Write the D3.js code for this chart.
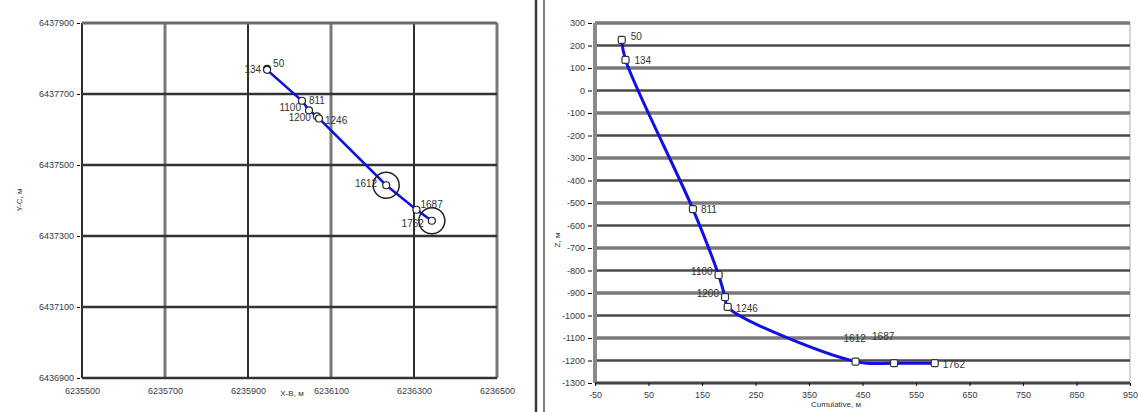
<!DOCTYPE html>
<head>
  <meta charset="utf-8">
  <script src="https://d3js.org/d3.v7.min.js"></script>
  <style>
  body,html {font-family:"Liberation Sans", Arial, sans-serif; margin:0; background:#fff;}
  .tick text {font-size:9px; fill:#3a3a4a;}
  .lbl {font-size:10px; fill:#333;}
  .ttl {font-size:8px; fill:#333;}
  </style>
</head>
<body>
<script>
  const width = 1138, height = 412;

  // point names
  const names = ["50", "134", "811", "1100", "1200", "1246", "1612", "1687", "1762"];

  // left chart: plan coordinates
  const planX = [6235946, 6235946, 6236030, 6236047, 6236066, 6236071, 6236233, 6236306, 6236343];
  const planY = [6437771, 6437768, 6437681, 6437654, 6437637, 6437631, 6437443, 6437374, 6437343];
  const planXTicks = [6235500, 6235700, 6235900, 6236100, 6236300, 6236500];
  const planYTicks = [6436900, 6437100, 6437300, 6437500, 6437700, 6437900];
  const ringed = ["1612", "1762"];

  // right chart: profile
  const profX = [0, 7, 133, 181, 193, 198, 437, 509, 585];
  const profY = [225, 136, -527, -820, -918, -962, -1205, -1212, -1212];
  const profXTicks = [-50, 50, 150, 250, 350, 450, 550, 650, 750, 850, 950];
  const profYTicks = d3.range(-1300, 301, 100);

  const plain = d => String(d);

  const svg = d3.select("body").append("svg")
    .attr("width", width).attr("height", height);

  // ---------- left chart
  const x1 = d3.scaleLinear().domain([6235500, 6236500]).range([82, 497]);
  const y1 = d3.scaleLinear().domain([6436900, 6437900]).range([378, 23]);

  const g1 = svg.append("g");
  g1.selectAll(".vg").data(planXTicks).enter().append("line")
    .attr("x1", d => x1(d)).attr("x2", d => x1(d))
    .attr("y1", y1(6437900)).attr("y2", y1(6436900))
    .attr("stroke", (d, i) => i % 2 ? "#7a7a7a" : "#2e2e2e")
    .attr("stroke-width", (d, i) => i % 2 ? 3 : 2);
  g1.selectAll(".hg").data(planYTicks).enter().append("line")
    .attr("y1", d => y1(d)).attr("y2", d => y1(d))
    .attr("x1", x1(6235500)).attr("x2", x1(6236500))
    .attr("stroke", (d, i) => i == 5 ? "#6a6a6a" : "#333")
    .attr("stroke-width", (d, i) => i == 5 ? 3 : 2.5);

  g1.append("g").attr("transform", "translate(80,0)")
    .call(d3.axisLeft(y1).tickValues(planYTicks).tickSize(3).tickFormat(plain))
    .call(a => a.select(".domain").remove());
  g1.append("g").attr("transform", "translate(0,380)")
    .call(d3.axisBottom(x1).tickValues(planXTicks).tickSize(0).tickPadding(8).tickFormat(plain))
    .call(a => a.select(".domain").remove());

  g1.append("text").attr("class", "ttl").attr("x", 292).attr("y", 396)
    .attr("text-anchor", "middle").text("X-B, м");
  g1.append("text").attr("class", "ttl")
    .attr("transform", "translate(22,200) rotate(-90)")
    .attr("text-anchor", "middle").text("Y-C, м");

  const plan = names.map((n, i) => ({n, x: planX[i], y: planY[i]}));
  g1.append("path").datum(plan)
    .attr("fill", "none").attr("stroke", "#1010e0").attr("stroke-width", 2.5)
    .attr("d", d3.line().x(d => x1(d.x)).y(d => y1(d.y)));
  g1.selectAll(".ring").data(plan.filter(d => ringed.includes(d.n))).enter().append("circle")
    .attr("cx", d => x1(d.x)).attr("cy", d => y1(d.y)).attr("r", 13)
    .attr("fill", "none").attr("stroke", "#222").attr("stroke-width", 1.5);
  g1.selectAll(".pt").data(plan).enter().append("circle")
    .attr("cx", d => x1(d.x)).attr("cy", d => y1(d.y)).attr("r", 3.5)
    .attr("fill", "#fff").attr("stroke", "#222").attr("stroke-width", 1.2);

  // label placement: [dx, dy, anchor]
  const planLbl = {
    "50": [6, -2, "start"], "134": [-6, 3, "end"], "811": [7, 3, "start"],
    "1100": [-8, 1, "end"], "1200": [-6, 5, "end"], "1246": [6, 6, "start"],
    "1612": [-9, 2, "end"], "1687": [4, -2, "start"], "1762": [-8, 6, "end"]
  };
  g1.selectAll(".pl").data(plan).enter().append("text").attr("class", "lbl")
    .attr("x", d => x1(d.x) + planLbl[d.n][0])
    .attr("y", d => y1(d.y) + planLbl[d.n][1])
    .attr("text-anchor", d => planLbl[d.n][2]).text(d => d.n);

  // ---------- separator
  svg.append("line").attr("x1", 536).attr("x2", 536).attr("y1", 0).attr("y2", height)
    .attr("stroke", "#3a3a3a").attr("stroke-width", 2.5);
  svg.append("line").attr("x1", 544).attr("x2", 544).attr("y1", 0).attr("y2", height)
    .attr("stroke", "#555").attr("stroke-width", 1.5);

  // ---------- right chart
  const x2 = d3.scaleLinear().domain([-50, 950]).range([595, 1130]);
  const y2 = d3.scaleLinear().domain([-1300, 300]).range([383, 23]);
  const g2 = svg.append("g");

  g2.append("rect").attr("x", 595).attr("y", 23).attr("width", 535).attr("height", 360)
    .attr("fill", "none").attr("stroke", "#c8c8c8").attr("stroke-width", 1.5);
  g2.selectAll(".hg").data(profYTicks).enter().append("line")
    .attr("y1", d => y2(d)).attr("y2", d => y2(d))
    .attr("x1", 595).attr("x2", 1130)
    .attr("stroke", (d, i) => i % 2 ? "#4a4a4a" : "#7a7a7a")
    .attr("stroke-width", (d, i) => i % 2 ? 2.5 : 3.5);
  g2.append("line").attr("x1", 595).attr("x2", 595).attr("y1", 23).attr("y2", 383)
    .attr("stroke", "#8a8a8a").attr("stroke-width", 4);
  g2.append("line").attr("x1", 595).attr("x2", 1130).attr("y1", 383).attr("y2", 383)
    .attr("stroke", "#333").attr("stroke-width", 1.5);

  g2.append("g").attr("transform", "translate(592,0)")
    .call(d3.axisLeft(y2).tickValues(profYTicks).tickSize(4).tickFormat(plain))
    .call(a => a.select(".domain").remove());
  g2.append("g").attr("transform", "translate(0,383)")
    .call(d3.axisBottom(x2).tickValues(profXTicks).tickSize(3).tickPadding(6).tickFormat(plain))
    .call(a => a.select(".domain").remove());

  g2.append("text").attr("class", "ttl").attr("x", 836).attr("y", 407)
    .attr("text-anchor", "middle").text("Cumulative, м");
  g2.append("text").attr("class", "ttl")
    .attr("transform", "translate(560,240) rotate(-90)")
    .attr("text-anchor", "middle").text("Z, м");

  const prof = names.map((n, i) => ({n, x: profX[i], y: profY[i]}));
  g2.append("path").datum(prof)
    .attr("fill", "none").attr("stroke", "#1010e0").attr("stroke-width", 3)
    .attr("d", d3.line().curve(d3.curveCatmullRom.alpha(0.5)).x(d => x2(d.x)).y(d => y2(d.y)));
  g2.selectAll(".pt").data(prof).enter().append("rect")
    .attr("x", d => x2(d.x) - 3.5).attr("y", d => y2(d.y) - 3.5)
    .attr("width", 7).attr("height", 7).attr("rx", 1.5)
    .attr("fill", "#fff").attr("stroke", "#333").attr("stroke-width", 1.2);

  const profLbl = {
    "50": [9, 0, "start"], "134": [9, 4, "start"], "811": [8, 4, "start"],
    "1100": [-6, 0, "end"], "1200": [-6, 0, "end"], "1246": [8, 5, "start"],
    "1612": [-12, -20, "start"], "1687": [-22, -23, "start"], "1762": [8, 5, "start"]
  };
  g2.selectAll(".pl").data(prof).enter().append("text").attr("class", "lbl")
    .attr("x", d => x2(d.x) + profLbl[d.n][0])
    .attr("y", d => y2(d.y) + profLbl[d.n][1])
    .attr("text-anchor", d => profLbl[d.n][2]).text(d => d.n);
</script>
</body>
